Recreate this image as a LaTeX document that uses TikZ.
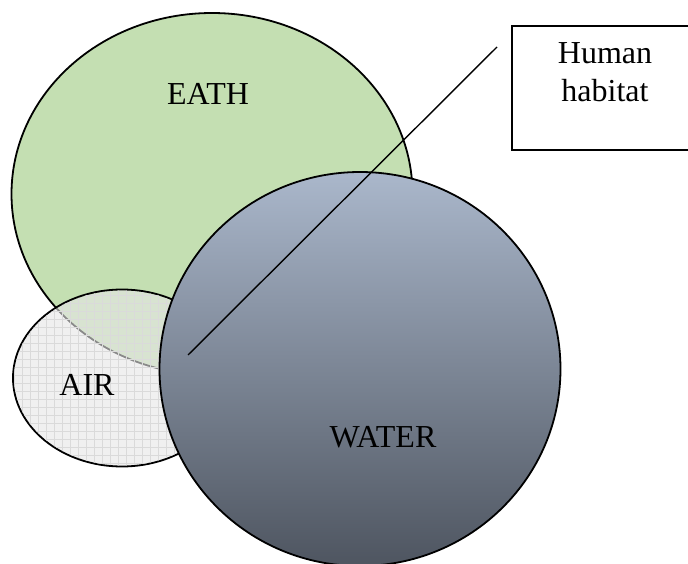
\documentclass[tikz,border=0pt]{standalone}
\usepackage{fontspec}
\setmainfont{Liberation Serif}
\usetikzlibrary{shapes.geometric}
\definecolor{earthgreen}{RGB}{196,223,178}
\definecolor{airgray}{RGB}{230,230,230}
\definecolor{airgrid}{RGB}{218,218,218}
\definecolor{watertop}{RGB}{170,183,203}
\definecolor{waterbot}{RGB}{78,85,96}
\begin{document}
\begin{tikzpicture}[
  x=1pt, y=-1pt, font=\fontsize{32}{38}\selectfont,
  blob/.style={draw, ellipse, line width=1.8pt, inner sep=0pt},
  tag/.style={anchor=base, inner sep=0pt},
  callbox/.style={draw, line width=1.8pt, minimum width=188pt,
                  minimum height=124pt, inner sep=0pt},
]
\useasboundingbox (0,0) rectangle (688,564);
% the three spheres
\node[blob, fill=earthgreen, minimum width=401pt, minimum height=362pt] (earth) at (212,194) {};
\node[blob, fill=airgray, fill opacity=0.6, minimum width=218pt, minimum height=177pt] (air) at (122,378) {};
\begin{scope}
  \clip (air.center) ellipse [x radius=108, y radius=87.5];
  \foreach \gx in {14,22,...,238} \draw[airgrid, line width=0.8pt] (\gx,285) -- (\gx,470);
  \foreach \gy in {287,295,...,470} \draw[airgrid, line width=0.8pt] (10,\gy) -- (240,\gy);
\end{scope}
\node[blob, top color=watertop, bottom color=waterbot, minimum width=401pt, minimum height=394pt] (water) at (360,369) {};
% labels
\node[tag] (eathtxt) at (208,105) {EATH};
\node[tag] (airtxt) at (87,395) {AIR};
\node[tag] (watertxt) at (383,447) {WATER};
% callout
\node[callbox] (hab) at (606,88) {};
\node[align=center, anchor=north, inner sep=0pt] (habtxt) at (605,42) {Human\\habitat};
\coordinate (tip) at (497,47);
\coordinate (foot) at (188,355);
\draw[line width=1.4pt] (tip) -- (foot);
\end{tikzpicture}
\end{document}
